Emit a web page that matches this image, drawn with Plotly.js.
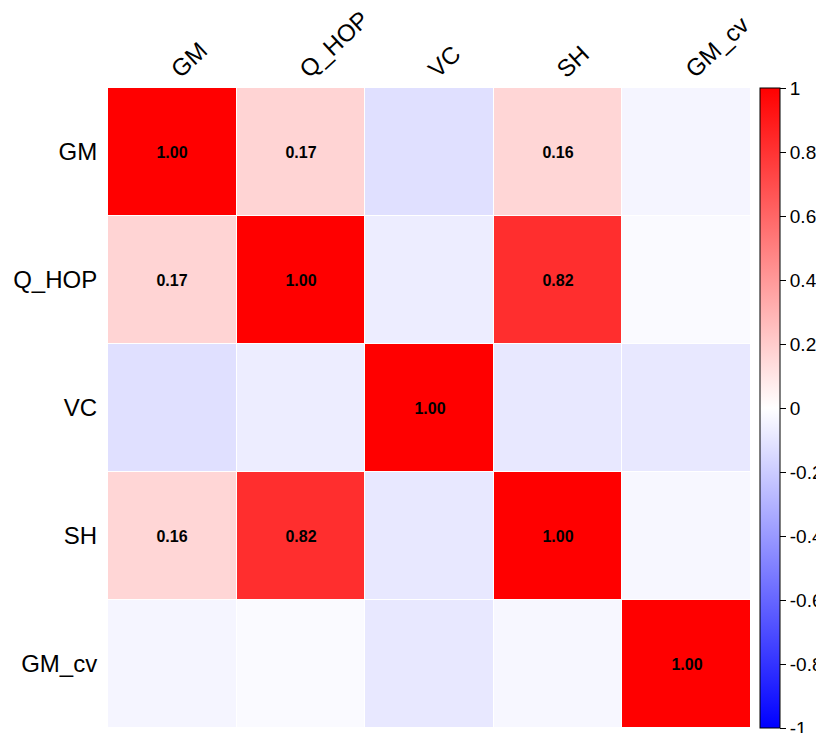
<!DOCTYPE html>
<html>
<head>
<meta charset="utf-8">
<script src="https://cdn.plot.ly/plotly-3.0.1.min.js"></script>
<style>html,body{margin:0;padding:0;background:#fff;}#chart{width:816px;height:733px;}</style>
</head>
<body>
<div id="chart"></div>
<script>
// Variable names (rows top to bottom, columns left to right)
const variables = ["GM", "Q_HOP", "VC", "SH", "GM_cv"];

// Correlation matrix rows
const rowGM    = [1.00,  0.17, -0.12,  0.16, -0.04];
const rowQHOP  = [0.17,  1.00, -0.07,  0.82, -0.02];
const rowVC    = [-0.12, -0.07, 1.00, -0.09, -0.09];
const rowSH    = [0.16,  0.82, -0.09,  1.00, -0.03];
const rowGMcv  = [-0.04, -0.02, -0.09, -0.03, 1.00];

// Which coefficients are printed in the cells
const showGM   = [true,  true,  false, true,  false];
const showQHOP = [true,  true,  false, true,  false];
const showVC   = [false, false, true,  false, false];
const showSH   = [true,  true,  false, true,  false];
const showGMcv = [false, false, false, false, true];

// Colour bar ticks
const cbTickVals = [-1, -0.8, -0.6, -0.4, -0.2, 0, 0.2, 0.4, 0.6, 0.8, 1];
const cbTickText = ["-1", "-0.8", "-0.6", "-0.4", "-0.2", "0", "0.2", "0.4", "0.6", "0.8", "1"];

const z = [rowGM, rowQHOP, rowVC, rowSH, rowGMcv];
const show = [showGM, showQHOP, showVC, showSH, showGMcv];
const text = z.map((r, i) => r.map((v, j) => show[i][j] ? v.toFixed(2) : ""));

const trace = {
  type: "heatmap",
  x: variables,
  y: variables,
  z: z,
  text: text,
  texttemplate: "%{text}",
  textfont: {family: "Liberation Sans, Arial, sans-serif", size: 16, color: "#000", weight: "bold"},
  zmin: -1, zmax: 1,
  xgap: 1, ygap: 1,
  colorscale: [[0, "#0000ff"], [0.5, "#ffffff"], [1, "#ff0000"]],
  hoverinfo: "x+y+z",
  colorbar: {
    x: 1.0142, xanchor: "left", xpad: 0,
    y: 0.5, yanchor: "middle", len: 1, ypad: 0,
    thickness: 20,
    outlinewidth: 1, outlinecolor: "#000",
    tickmode: "array", tickvals: cbTickVals, ticktext: cbTickText,
    ticks: "outside", ticklen: 6, tickcolor: "#000",
    ticklabeloverflow: "allow",
    tickfont: {family: "Liberation Sans, Arial, sans-serif", size: 19, color: "#000"}
  }
};

const layout = {
  width: 816, height: 733,
  margin: {l: 108, r: 65, t: 88, b: 5, autoexpand: false},
  paper_bgcolor: "#fff", plot_bgcolor: "#fff",
  xaxis: {
    side: "top", tickangle: -43,
    showgrid: false, zeroline: false, showline: false,
    ticks: "",
    tickfont: {family: "Liberation Sans, Arial, sans-serif", size: 24, color: "#000"}
  },
  yaxis: {
    autorange: "reversed",
    showgrid: false, zeroline: false, showline: false,
    ticks: "outside", ticklen: 5, tickcolor: "rgba(0,0,0,0)",
    tickfont: {family: "Liberation Sans, Arial, sans-serif", size: 24, color: "#000"}
  }
};

Plotly.newPlot("chart", [trace], layout, {displayModeBar: false, staticPlot: true});
</script>
</body>
</html>
